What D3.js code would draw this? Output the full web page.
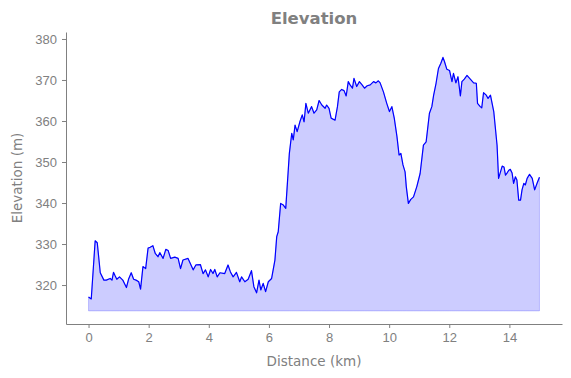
<!DOCTYPE html>
<html>
<head>
<meta charset="utf-8">
<script src="https://cdn.jsdelivr.net/npm/d3@7"></script>
<style>
  body { margin: 0; background: #fff; }
  svg { font-family: "DejaVu Sans", sans-serif; }
  .axis text { fill: #808080; font-size: 13px; }
  .axis path, .axis line { stroke: #808080; }
</style>
</head>
<body>
<svg id="chart" width="571" height="378"></svg>
<script>
// distance along the route (km)
const distance = [
  0.0, 0.09, 0.22, 0.29, 0.39, 0.51, 0.59, 0.72, 0.78, 0.83, 0.88, 0.94,
  1.03, 1.14, 1.26, 1.33, 1.42, 1.50, 1.58, 1.67, 1.73, 1.81, 1.90, 1.98,
  2.05, 2.14, 2.22, 2.31, 2.37, 2.48, 2.57, 2.65, 2.73, 2.87, 2.98, 3.06,
  3.14, 3.31, 3.48, 3.57, 3.72, 3.81, 3.89, 3.98, 4.06, 4.14, 4.20, 4.28,
  4.37, 4.53, 4.64, 4.72, 4.81, 4.92, 5.03, 5.09, 5.20, 5.31, 5.42, 5.50,
  5.59, 5.67, 5.73, 5.81, 5.89, 5.98, 6.09, 6.20, 6.26, 6.31, 6.39, 6.48,
  6.56, 6.68, 6.76, 6.81, 6.87, 6.94, 7.03, 7.11, 7.17, 7.23, 7.31, 7.42,
  7.50, 7.59, 7.67, 7.76, 7.87, 7.92, 8.00, 8.07, 8.20, 8.28, 8.34, 8.42,
  8.50, 8.57, 8.64, 8.70, 8.78, 8.83, 8.92, 9.01, 9.10, 9.18, 9.27, 9.37,
  9.48, 9.56, 9.64, 9.70, 9.81, 9.92, 10.01, 10.09, 10.17, 10.26, 10.33, 10.39,
  10.46, 10.53, 10.57, 10.64, 10.72, 10.81, 10.92, 11.03, 11.14, 11.23, 11.34, 11.42,
  11.48, 11.56, 11.64, 11.72, 11.79, 11.84, 11.92, 12.01, 12.09, 12.14, 12.22, 12.29,
  12.37, 12.42, 12.50, 12.59, 12.70, 12.81, 12.90, 12.94, 13.03, 13.08, 13.14, 13.23,
  13.29, 13.37, 13.48, 13.59, 13.64, 13.76, 13.82, 13.87, 13.92, 13.98, 14.03, 14.09,
  14.14, 14.20, 14.25, 14.31, 14.37, 14.42, 14.48, 14.53, 14.59, 14.67, 14.76, 14.84,
  14.92, 15.00
];

// elevation (m)
const elevation = [
  317.1, 316.6, 330.8, 330.3, 323.0, 321.2, 321.2, 321.6, 321.2, 323.1, 322.3, 321.4,
  322.0, 321.2, 319.4, 321.4, 323.0, 321.4, 321.2, 320.8, 319.0, 324.5, 324.0, 329.0,
  329.2, 329.6, 327.7, 326.9, 327.9, 326.5, 328.7, 328.4, 326.5, 326.8, 326.5, 324.0,
  326.1, 326.5, 323.7, 324.9, 325.0, 322.8, 323.7, 322.0, 323.8, 322.8, 323.8, 322.0,
  323.0, 322.8, 324.9, 323.2, 322.0, 323.1, 320.8, 322.0, 320.8, 321.4, 323.5, 319.6,
  318.1, 321.2, 318.8, 320.4, 318.4, 320.8, 321.6, 326.1, 331.8, 333.0, 339.9, 339.5,
  338.7, 352.1, 357.0, 355.4, 359.0, 357.4, 359.8, 361.5, 359.8, 364.3, 361.9, 363.5,
  361.9, 362.7, 365.0, 363.9, 363.1, 363.9, 363.1, 360.7, 360.2, 363.5, 367.1, 367.7,
  367.4, 366.1, 369.6, 368.8, 368.0, 370.4, 368.4, 369.6, 368.8, 368.0, 368.6, 368.8,
  369.6, 369.3, 369.8, 369.3, 367.1, 364.3, 362.3, 363.5, 360.7, 356.2, 351.7, 352.1,
  349.3, 347.6, 344.0, 339.9, 340.9, 341.5, 344.0, 347.2, 354.1, 354.9, 361.9, 363.5,
  366.3, 369.2, 372.8, 374.1, 375.5, 374.5, 372.6, 372.3, 369.6, 371.6, 369.3, 370.8,
  366.1, 369.6, 370.2, 371.1, 370.2, 369.3, 369.2, 364.3, 363.5, 363.2, 366.9, 366.3,
  365.5, 366.3, 362.3, 354.1, 346.0, 349.0, 348.8, 346.8, 347.3, 348.0, 348.2, 347.3,
  344.8, 346.4, 345.6, 340.7, 340.7, 343.2, 344.8, 344.4, 346.0, 347.0, 346.0, 343.2,
  344.8, 346.3
];

const fillBase = 313.7;
const xTicks = [0, 2, 4, 6, 8, 10, 12, 14];
const yTicks = [320, 330, 340, 350, 360, 370, 380];

const data = distance.map((d, i) => ({ d: d, e: elevation[i] }));

const svg = d3.select("#chart");
const width = 571;
const height = 378;
const margin = { top: 32, right: 9, bottom: 54, left: 66 };

const x = d3.scaleLinear()
    .domain([-0.75, 15.75])
    .range([margin.left, width - margin.right]);

const y = d3.scaleLinear()
    .domain([310.5, 381.7])
    .range([height - margin.bottom, margin.top]);

// filled area under the profile
const area = d3.area()
    .x(d => x(d.d))
    .y0(y(fillBase))
    .y1(d => y(d.e));

svg.append("path")
    .datum(data)
    .attr("d", area)
    .attr("fill", "rgba(0,0,255,0.2)")
    .attr("stroke", "rgba(0,0,255,0.2)")
    .attr("stroke-width", 1);

const line = d3.line()
    .x(d => x(d.d))
    .y(d => y(d.e));

svg.append("path")
    .datum(data)
    .attr("d", line)
    .attr("fill", "none")
    .attr("stroke", "blue")
    .attr("stroke-width", 1.2)
    .attr("stroke-linejoin", "round");

// axes
svg.append("g")
    .attr("class", "axis")
    .attr("transform", `translate(0,${height - margin.bottom})`)
    .call(d3.axisBottom(x).tickValues(xTicks).tickSize(4).tickPadding(5).tickSizeOuter(0));

svg.append("g")
    .attr("class", "axis")
    .attr("transform", `translate(${margin.left},0)`)
    .call(d3.axisLeft(y).tickValues(yTicks).tickSize(4).tickPadding(5).tickSizeOuter(0));

// labels
svg.append("text")
    .attr("x", (margin.left + width - margin.right) / 2)
    .attr("y", 24)
    .attr("text-anchor", "middle")
    .attr("fill", "#808080")
    .attr("font-size", 16.5)
    .attr("font-weight", "bold")
    .text("Elevation");

svg.append("text")
    .attr("x", (margin.left + width - margin.right) / 2)
    .attr("y", 366)
    .attr("text-anchor", "middle")
    .attr("fill", "#808080")
    .attr("font-size", 13.5)
    .text("Distance (km)");

svg.append("text")
    .attr("transform", `translate(22,${(margin.top + height - margin.bottom) / 2}) rotate(-90)`)
    .attr("text-anchor", "middle")
    .attr("fill", "#808080")
    .attr("font-size", 13.5)
    .text("Elevation (m)");
</script>
</body>
</html>
